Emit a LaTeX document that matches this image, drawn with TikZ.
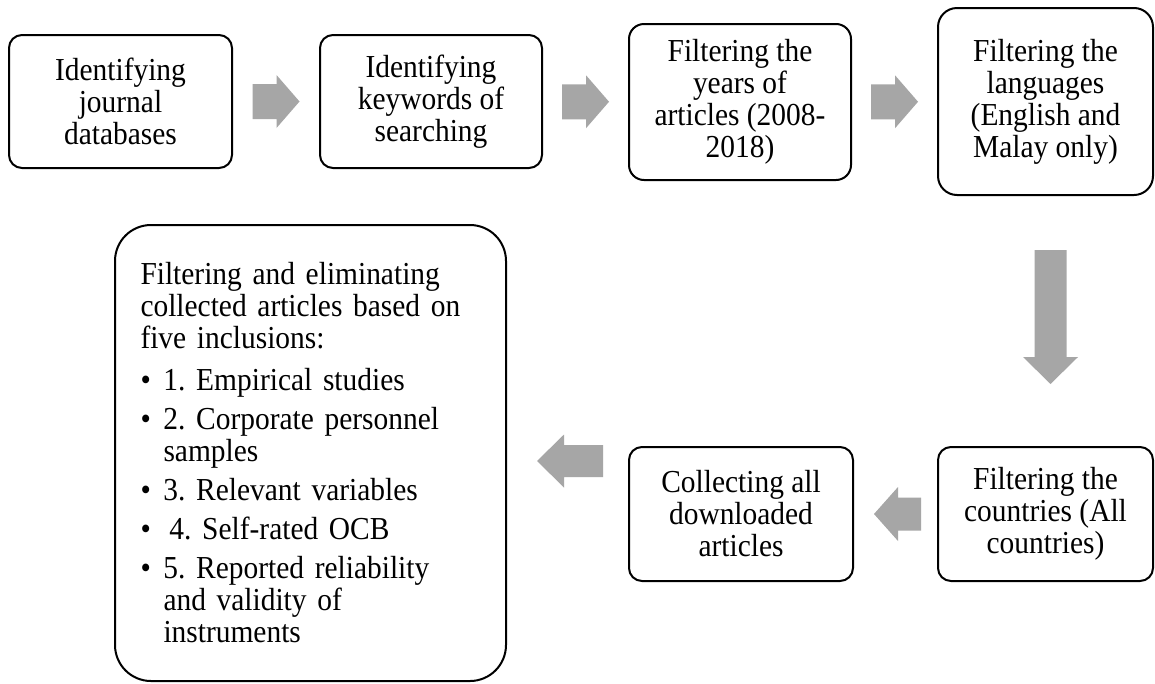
\documentclass[tikz,border=0pt]{standalone}
\usepackage{fontspec}
\setmainfont{Liberation Serif}[FakeStretch=0.92]
\usetikzlibrary{calc}
\definecolor{arrowgray}{RGB}{166,166,166}
\newcommand{\diagfont}{\fontsize{32pt}{32pt}\selectfont\frenchspacing}
\newcommand{\bul}{\makebox[23pt][l]{•}}
\newcommand{\bind}{\hspace*{23pt}}
\newcommand{\fatarrow}[6]{%
  \fill[arrowgray, shift={(#1)}, rotate=#2]
    ({-#3/2},{-#5/2}) -- ({#3/2-#6},{-#5/2}) -- ({#3/2-#6},{-#4/2}) --
    ({#3/2},0) -- ({#3/2-#6},{#4/2}) -- ({#3/2-#6},{#5/2}) --
    ({-#3/2},{#5/2}) -- cycle;}
\tikzset{
  rbox/.style={draw=black, line width=2pt, rounded corners=#1, align=center,
    inner sep=0pt, font=\diagfont, fill=white},
}
\begin{document}
\begin{tikzpicture}[x=1pt, y=-1pt]
\useasboundingbox (0,0) rectangle (1155,683);
\fill[white] (0,0) rectangle (1155,683);

\node[rbox=13pt, minimum width=223pt, minimum height=133pt] (b1) at (120.5,101.5)
  {Identifying\\journal\\databases};
\node[rbox=13pt, minimum width=222pt, minimum height=133pt] (b2) at (431,101.5)
  {Identifying\\keywords of\\searching};
\node[rbox=15pt, minimum width=222pt, minimum height=156pt] (b3) at (740,102)
  {Filtering the\\years of\\articles (2008-\\2018)};
\node[rbox=19pt, minimum width=215pt, minimum height=187pt] (b4) at (1045.5,101.5)
  {Filtering the\\languages\\(English and\\Malay only)};
\node[rbox=13pt, minimum width=215pt, minimum height=134pt] (b5) at (1045.5,514)
  {Filtering the\\countries (All\\countries)};
\node[rbox=13pt, minimum width=224pt, minimum height=134pt] (b6) at (741,514)
  {Collecting all\\downloaded\\articles};
\node[rbox=36pt, minimum width=391pt, minimum height=456pt, text width=340pt,
      inner xsep=25.5pt, align=left] (b7) at (310.5,453)
  {Filtering and eliminating\\
   collected articles based on\\
   five inclusions:\\[10pt]
   \bul 1. Empirical studies\\[7pt]
   \bul 2. Corporate personnel\\
   \bind samples\\[7pt]
   \bul 3. Relevant variables\\[7pt]
   \bul \hspace*{6pt}4. Self-rated OCB\\[7pt]
   \bul 5. Reported reliability\\
   \bind and validity of\\
   \bind instruments};

\coordinate (a1) at ($(b1.east)!0.5!(b2.west)$);
\coordinate (a2) at ($(b2.east)!0.5!(b3.west)$);
\coordinate (a3) at ($(b3.east)!0.5!(b4.west)$);
\coordinate (a4) at ($(b4.south)!0.5!(b5.north)+(5,-4)$);
\coordinate (a5) at ($(b5.west)!0.5!(b6.east)+(2,0)$);
\coordinate (a6) at ($(b6.west)!0.5!(b7.east)+(2.5,-22.5)$);

\fatarrow{a1}{0}{47}{53}{35}{23}
\fatarrow{a2}{0}{47}{53}{35}{23}
\fatarrow{a3}{0}{47}{53}{35}{23}
\fatarrow{a4}{-90}{134}{55}{32}{27}
\fatarrow{a5}{180}{47}{54}{33}{24}
\fatarrow{a6}{180}{66}{53}{32}{27}
\end{tikzpicture}
\end{document}
